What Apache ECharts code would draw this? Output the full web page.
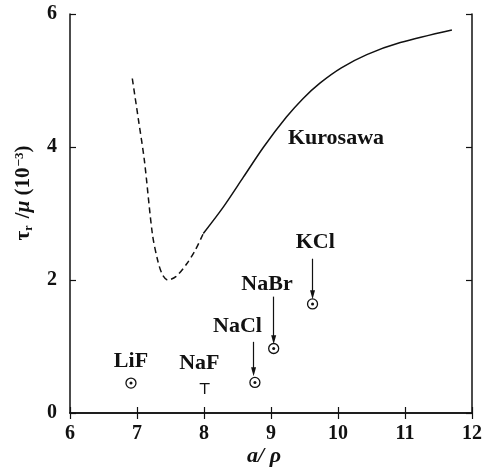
<!DOCTYPE html>
<html>
<head>
<meta charset="utf-8">
<script src="https://cdn.jsdelivr.net/npm/echarts@6/dist/echarts.min.js"></script>
<style>
  html, body { margin: 0; padding: 0; background: #fff; }
  #chart { width: 485px; height: 471px; }
</style>
</head>
<body>
<div id="chart"></div>
<script>
// Kurosawa theory curve: dashed (extrapolated) and solid parts
const kurosawaDashed = [
  [6.93, 5.03], [7.02, 4.42], [7.11, 3.80], [7.23, 2.69], [7.31, 2.29],
  [7.38, 2.08], [7.46, 2.00], [7.58, 2.05], [7.74, 2.24], [7.87, 2.45], [7.99, 2.70]
];
const kurosawaSolid = [
  [7.99, 2.70], [8.29, 3.10], [8.59, 3.55], [8.89, 4.00], [9.23, 4.45],
  [9.48, 4.73], [9.73, 4.96], [10.05, 5.19], [10.43, 5.39], [10.93, 5.57], [11.70, 5.76]
];

// Measured crystals
const crystalNames = ['LiF', 'NaCl', 'NaBr', 'KCl'];
const crystalX = [6.91, 8.76, 9.04, 9.62];
const crystalY = [0.45, 0.46, 0.97, 1.64];

// NaF: upper-limit marker
const nafPoint = [8.01, 0.45];

// Arrows pointing from labels to points: [x, yStart, yEnd]
const arrows = [
  [8.74, 1.07, 0.62],
  [9.04, 1.75, 1.10],
  [9.62, 2.32, 1.78]
];

// Label anchors in data units
const labelNames = ['LiF', 'NaF', 'NaCl', 'NaBr', 'KCl', 'Kurosawa'];
const labelAnchors = [[6.91, 0.77], [7.93, 0.74], [8.50, 1.31], [8.94, 1.94], [9.66, 2.56], [9.97, 4.13]];

const xTicks = [6, 7, 8, 9, 10, 11, 12];
const yTicks = [0, 2, 4, 6];

const serif = "'Liberation Serif', 'DejaVu Serif', serif";
const ink = '#111';
const chart = echarts.init(document.getElementById('chart'));

const tickStyle = { show: true, inside: true, length: 6, lineStyle: { color: ink, width: 1.2 } };
const axisLineStyle = { show: true, lineStyle: { color: ink, width: 1.5 } };

chart.setOption({
  backgroundColor: '#fff',
  animation: false,
  grid: { left: 70, right: 13, top: 14, bottom: 58 },
  xAxis: [
    {
      type: 'value', min: xTicks[0], max: xTicks[xTicks.length - 1], interval: 1,
      axisLine: axisLineStyle, axisTick: tickStyle, splitLine: { show: false },
      axisLabel: { margin: 11, fontFamily: serif, fontWeight: 'bold', fontSize: 20, color: ink }
    },
    {
      type: 'value', position: 'top', min: xTicks[0], max: xTicks[xTicks.length - 1], interval: 1,
      axisLine: axisLineStyle, axisTick: tickStyle, splitLine: { show: false },
      axisLabel: { show: false }
    }
  ],
  yAxis: [
    {
      type: 'value', min: yTicks[0], max: yTicks[yTicks.length - 1], interval: 2,
      axisLine: axisLineStyle, axisTick: tickStyle, splitLine: { show: false },
      axisLabel: { margin: 13, fontFamily: serif, fontWeight: 'bold', fontSize: 20, color: ink }
    },
    {
      type: 'value', position: 'right', min: yTicks[0], max: yTicks[yTicks.length - 1], interval: 2,
      axisLine: axisLineStyle, axisTick: tickStyle, splitLine: { show: false },
      axisLabel: { show: false }
    }
  ],
  series: [
    {
      type: 'line', data: kurosawaDashed, smooth: 0.3, symbol: 'none',
      lineStyle: { color: ink, width: 1.5, type: [6, 4] }
    },
    {
      type: 'line', data: kurosawaSolid, smooth: 0.3, symbol: 'none',
      lineStyle: { color: ink, width: 1.5 }
    },
    {
      // circle-with-dot markers: outer ring
      type: 'scatter', data: crystalX.map((x, i) => [x, crystalY[i]]),
      symbol: 'circle', symbolSize: 10,
      itemStyle: { color: '#fff', borderColor: ink, borderWidth: 1.3, opacity: 1 }
    },
    {
      // circle-with-dot markers: centre dot
      type: 'scatter', data: crystalX.map((x, i) => [x, crystalY[i]]),
      symbol: 'circle', symbolSize: 3,
      itemStyle: { color: ink, opacity: 1 }
    },
    {
      // NaF upper limit drawn as a T
      type: 'scatter', data: [nafPoint],
      symbol: 'path://M0,0H10V1.4H5.7V12H4.3V1.4H0Z', symbolSize: [10, 11],
      symbolOffset: [0, '50%'],
      itemStyle: { color: ink, opacity: 1 }
    },
    {
      // arrows
      type: 'scatter', data: [],
      markLine: {
        silent: true,
        symbol: ['none', 'triangle'],
        symbolSize: [5, 9],
        label: { show: false },
        lineStyle: { color: ink, width: 1.2, type: 'solid', opacity: 1 },
        data: arrows.map(a => [{ coord: [a[0], a[1]] }, { coord: [a[0], a[2]] }])
      }
    },
    {
      // text labels
      type: 'scatter', symbolSize: 0,
      data: labelAnchors.map((p, i) => ({ value: p, name: labelNames[i] })),
      itemStyle: { opacity: 1 },
      label: {
        show: true, position: 'inside', formatter: '{b}',
        fontFamily: serif, fontWeight: 'bold', fontSize: 22, color: ink, opacity: 1
      }
    }
  ],
  graphic: [
    {
      type: 'text', x: 24, y: 193, rotation: Math.PI / 2,
      style: {
        text: '{t|τ}{s|r}{t| /}{m|μ}{t| (10}{p|−3}{t|)}',
        align: 'center', verticalAlign: 'middle',
        rich: {
          t: { fontFamily: serif, fontWeight: 'bold', fontSize: 21, fill: ink },
          m: { fontFamily: serif, fontWeight: 'bold', fontStyle: 'italic', fontSize: 21, fill: ink },
          s: { fontFamily: serif, fontWeight: 'bold', fontSize: 12, fill: ink, verticalAlign: 'bottom', padding: [8, 2, 0, 0] },
          p: { fontFamily: serif, fontWeight: 'bold', fontSize: 13, fill: ink, verticalAlign: 'top', padding: [0, 0, 8, 1] }
        }
      }
    },
    {
      type: 'text', x: 264, y: 456,
      style: {
        text: 'a/ ρ', align: 'center', verticalAlign: 'middle',
        fontFamily: serif, fontWeight: 'bold', fontStyle: 'italic', fontSize: 22, fill: ink
      }
    }
  ]
});
</script>
</body>
</html>
